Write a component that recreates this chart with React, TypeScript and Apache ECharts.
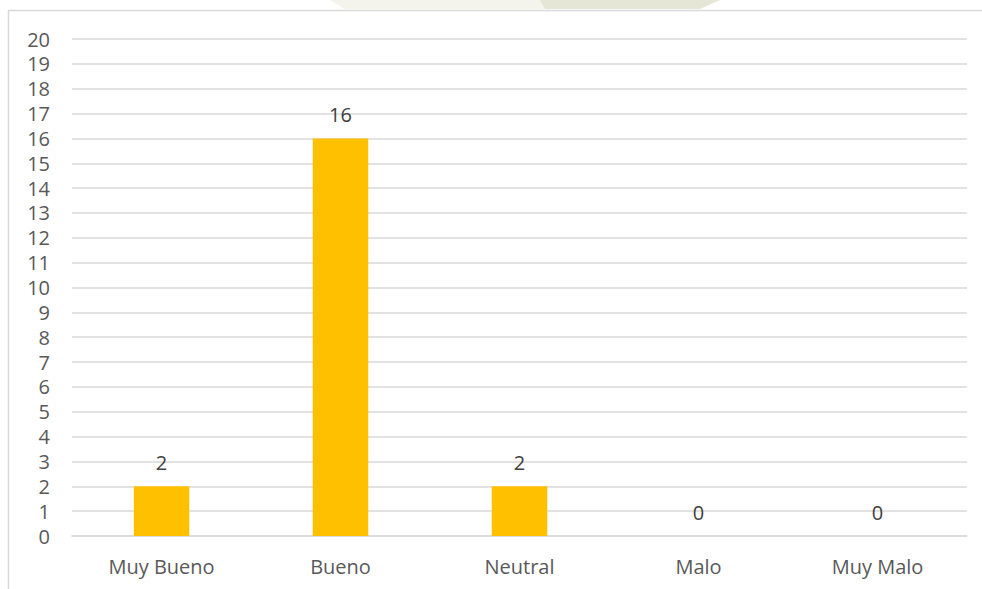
import React, { useEffect, useRef } from "react";
import * as echarts from "echarts";

const categories = ["Muy Bueno", "Bueno", "Neutral", "Malo", "Muy Malo"];
const values = [2, 16, 2, 0, 0];

const FONT = "'Open Sans', 'Noto Sans', sans-serif";
const TEXT = "#595959";
const GRID = "#D9D9D9";

export default function App() {
  const ref = useRef<HTMLDivElement>(null);
  useEffect(() => {
    if (!ref.current) return;
    const chart = echarts.init(ref.current, undefined, { renderer: "svg" });
    chart.setOption({
      animation: false,
      backgroundColor: "#ffffff",
      graphic: [
        {
          type: "polygon",
          shape: { points: [[330, 0], [560, 0], [545, 9], [345, 9]] },
          style: { fill: "#F4F4EC" },
          silent: true,
        },
        {
          type: "polygon",
          shape: { points: [[540, 0], [720, 0], [700, 9], [545, 9]] },
          style: { fill: "#E6E6D6" },
          silent: true,
        },
        {
          type: "rect",
          shape: { x: 8.5, y: 10.5, width: 1100, height: 700 },
          style: { fill: "none", stroke: "#D9D9D9", lineWidth: 1.5 },
          silent: true,
        },
      ],
      grid: { left: 72, right: 15, top: 39, bottom: 53, containLabel: false },
      xAxis: {
        type: "category",
        data: categories,
        axisLine: { show: true, lineStyle: { color: GRID, width: 1.5 } },
        axisTick: { show: false },
        axisLabel: { color: TEXT, fontFamily: FONT, fontSize: 20, margin: 20 },
      },
      yAxis: {
        type: "value",
        min: 0,
        max: 20,
        interval: 1,
        axisLine: { show: false },
        axisTick: { show: false },
        axisLabel: { color: TEXT, fontFamily: FONT, fontSize: 20, margin: 22 },
        splitLine: { show: true, lineStyle: { color: GRID, width: 1.5 } },
      },
      series: [
        {
          type: "bar",
          data: values,
          barWidth: "31%",
          itemStyle: { color: "#FFC000" },
          label: {
            show: true,
            position: "top",
            distance: 14,
            color: "#404040",
            fontFamily: FONT,
            fontSize: 20,
          },
        },
      ],
    });
    return () => chart.dispose();
  }, []);
  return (
    <div
      ref={ref}
      style={{ position: "fixed", left: 0, top: 0, width: 982, height: 589 }}
    />
  );
}
